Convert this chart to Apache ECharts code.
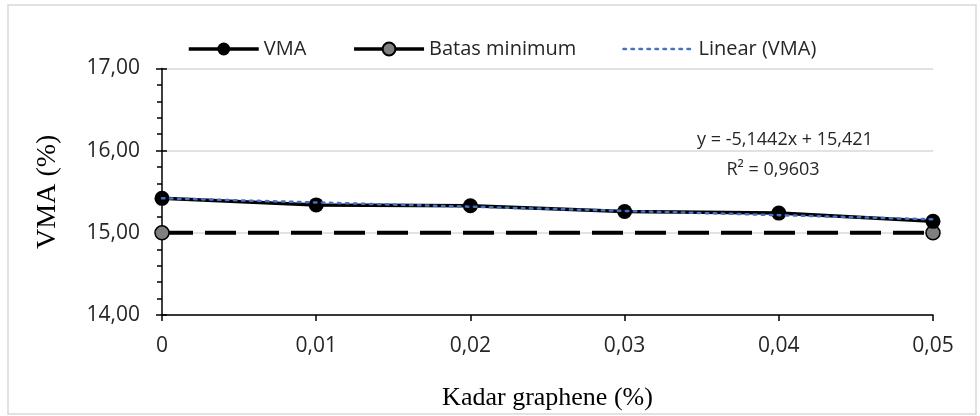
<!DOCTYPE html>
<html>
<head>
<meta charset="utf-8">
<script src="https://cdn.jsdelivr.net/npm/echarts@6/dist/echarts.min.js"></script>
<style>
  html, body { margin: 0; padding: 0; background: #fff; }
  #main { width: 980px; height: 416px; }
</style>
</head>
<body>
<div id="main"></div>
<script>
// data
const graphene = [0, 0.01, 0.02, 0.03, 0.04, 0.05];
const vma = [15.42, 15.34, 15.33, 15.26, 15.24, 15.14];
const batasX = [0, 0.05];
const batasY = [15, 15];
const trendX = [0, 0.05];
const trendY = [15.421, 15.164];
const yTicks = { min: 14, max: 17, step: 1 };
const xTicks = { min: 0, max: 0.05, step: 0.01 };
const seriesNames = ['VMA', 'Batas minimum', 'Linear (VMA)'];
const eqText = 'y = -5,1442x + 15,421';
const r2Text = 'R² = 0,9603';

const chart = echarts.init(document.getElementById('main'));
const sans = 'Open Sans';
const serif = 'Liberation Serif';
const fontColor = '#262626';
const comma = (v, d) => v.toFixed(d).replace('.', ',');

const zip = (xs, ys) => xs.map((x, i) => [x, ys[i]]);

const option = {
  backgroundColor: '#fff',
  animation: false,
  grid: { left: 162, right: 47, top: 68.5, bottom: 87.7 },
  legend: {
    top: 34,
    left: 182,
    itemWidth: 70,
    itemHeight: 16,
    itemGap: 46,
    data: [
      { name: seriesNames[0], lineStyle: { width: 3.5 } },
      { name: seriesNames[1], lineStyle: { width: 3.5, type: 'solid' } },
      { name: seriesNames[2], itemStyle: { opacity: 0 }, lineStyle: { width: 2.5 } }
    ],
    textStyle: { fontFamily: sans, fontSize: 20, color: fontColor }
  },
  xAxis: {
    type: 'value',
    min: xTicks.min,
    max: xTicks.max,
    interval: xTicks.step,
    name: 'Kadar graphene (%)',
    nameLocation: 'middle',
    nameGap: 70,
    nameTextStyle: { fontFamily: serif, fontSize: 26, color: '#000' },
    axisLine: { lineStyle: { color: '#000', width: 1.5 } },
    axisTick: { length: 6, lineStyle: { color: '#000', width: 1.5 } },
    axisLabel: {
      margin: 21,
      fontFamily: sans, fontSize: 21, color: fontColor,
      formatter: v => v === 0 ? '0' : comma(v, 2)
    },
    splitLine: { show: false }
  },
  yAxis: [{
    type: 'value',
    min: yTicks.min,
    max: yTicks.max,
    interval: yTicks.step,
    name: 'VMA (%)',
    nameLocation: 'middle',
    nameGap: 100,
    nameTextStyle: { fontFamily: serif, fontSize: 28, color: '#000' },
    axisLine: { show: true, lineStyle: { color: '#000', width: 1.5 } },
    axisTick: { show: true, length: 6, lineStyle: { color: '#000', width: 1.5 } },
    minorTick: { show: true, splitNumber: 5, length: 5, lineStyle: { color: '#000', width: 1.5 } },
    axisLabel: {
      margin: 22,
      fontFamily: sans, fontSize: 21, color: fontColor,
      formatter: v => comma(v, 2)
    },
    splitLine: { lineStyle: { color: '#d9d9d9', width: 1.5 } }
  }, {
    // inner half of the crossing major ticks
    type: 'value',
    position: 'left',
    min: yTicks.min,
    max: yTicks.max,
    interval: yTicks.step,
    axisLine: { show: false },
    axisTick: { show: true, inside: true, length: 5, lineStyle: { color: '#000', width: 1.5 } },
    axisLabel: { show: false },
    splitLine: { show: false }
  }],
  series: [{
    name: seriesNames[0],
    type: 'line',
    data: zip(graphene, vma),
    symbol: 'circle',
    symbolSize: 15,
    z: 3,
    itemStyle: { color: '#000' },
    lineStyle: { color: '#000', width: 3.5 }
  }, {
    name: seriesNames[1],
    type: 'line',
    data: zip(batasX, batasY),
    symbol: 'circle',
    symbolSize: 14,
    z: 2,
    itemStyle: { color: '#7f7f7f', borderColor: '#000', borderWidth: 1.5 },
    lineStyle: { color: '#000', width: 4, type: [31, 12], cap: 'butt' }
  }, {
    name: seriesNames[2],
    type: 'line',
    data: zip(trendX, trendY),
    symbol: 'circle',
    showSymbol: false,
    z: 4,
    itemStyle: { color: '#4472c4' },
    lineStyle: { color: '#4472c4', width: 2.5, type: [2.5, 5.5], cap: 'round' }
  }],
  graphic: [{
    type: 'rect',
    shape: { x: 8, y: 5, width: 968, height: 409 },
    style: { fill: null, stroke: '#d9d9d9', lineWidth: 1.5 },
    silent: true,
    z: -1
  }, {
    type: 'text',
    x: 785, y: 140,
    style: { text: eqText, fontFamily: sans, fontSize: 18, fill: fontColor, align: 'center', verticalAlign: 'middle' }
  }, {
    type: 'text',
    x: 773, y: 170,
    style: { text: r2Text, fontFamily: sans, fontSize: 18, fill: fontColor, align: 'center', verticalAlign: 'middle' }
  }]
};

chart.setOption(option);
</script>
</body>
</html>
